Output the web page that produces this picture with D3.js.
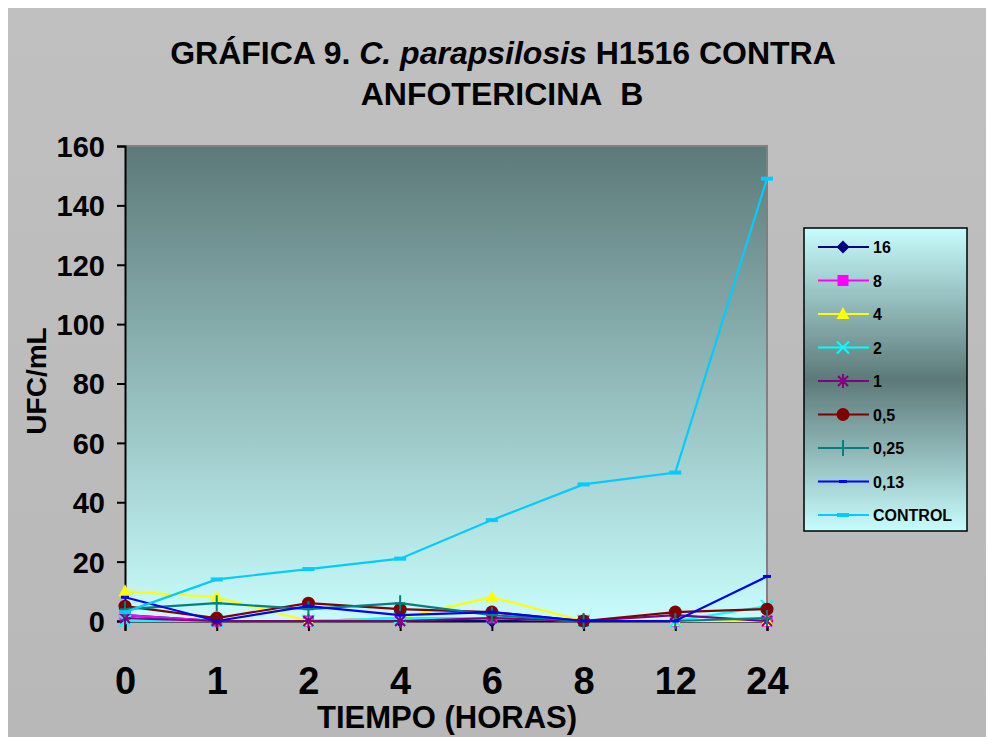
<!DOCTYPE html>
<html>
<head>
<meta charset="utf-8">
<script src="https://cdn.jsdelivr.net/npm/d3@7"></script>
<style>
  body { margin: 0; background: #fff; }
  text { font-family: "Liberation Sans", Arial, sans-serif; font-weight: bold; fill: #000; }
</style>
</head>
<body>
<script>
// categories on the x axis (hours)
var categories = ["0", "1", "2", "4", "6", "8", "12", "24"];
var yTicks = [0, 20, 40, 60, 80, 100, 120, 140, 160];

// series names as shown in the legend
var seriesNames = ["16", "8", "4", "2", "1", "0,5", "0,25", "0,13", "CONTROL"];

// UFC/mL values
var s16     = [2, 0, 0, 0, 0, 0, 0, 0];
var s8      = [2, 0, 0, 1, 1, 0, 0, 0];
var s4      = [10, 8, 0, 1, 8, 0, 0, 0];
var s2      = [0, 0, 0, 1, 1, 0, 0, 5];
var s1      = [1, 0, 0, 0, 1, 0, 2, 0];
var s05     = [5, 1, 6, 4, 3, 0, 3, 4];
var s025    = [4, 6, 4, 6, 2, 0, 0, 1];
var s013    = [8, 0, 5, 2, 3, 0, 0, 15];
var control = [3, 14, 17.5, 21, 34, 46, 50, 149];

var seriesValues = [s16, s8, s4, s2, s1, s05, s025, s013, control];
var colors = ["#000080", "#ff00ff", "#ffff00", "#00ffff", "#800080", "#800000", "#008080", "#0000ff", "#00ccff"];
var markers = ["diamond", "square", "triangle", "x", "star", "circle", "plus", "dash", "longdash"];

var width = 988, height = 737;
var plot = {left: 125, right: 767, top: 146, bottom: 621};

var svg = d3.select("body").append("svg")
  .attr("width", width)
  .attr("height", height);

var defs = svg.append("defs");

var bgGrad = defs.append("linearGradient").attr("id", "bgGrad")
  .attr("x1", 0).attr("y1", 0).attr("x2", 0).attr("y2", 1);
bgGrad.append("stop").attr("offset", "0%").attr("stop-color", "#c0c0c0");
bgGrad.append("stop").attr("offset", "100%").attr("stop-color", "#b8b8b8");

var plotGrad = defs.append("linearGradient").attr("id", "plotGrad")
  .attr("x1", 0).attr("y1", 0).attr("x2", 0).attr("y2", 1);
plotGrad.append("stop").attr("offset", "0%").attr("stop-color", "#5d7979");
plotGrad.append("stop").attr("offset", "100%").attr("stop-color", "#c8fcfc");

var legGrad = defs.append("linearGradient").attr("id", "legGrad")
  .attr("x1", 0).attr("y1", 0).attr("x2", 0).attr("y2", 1);
legGrad.append("stop").attr("offset", "0%").attr("stop-color", "#c8fcfc");
legGrad.append("stop").attr("offset", "50%").attr("stop-color", "#5d7979");
legGrad.append("stop").attr("offset", "100%").attr("stop-color", "#c8fcfc");

// chart background
svg.append("rect")
  .attr("x", 8).attr("y", 8)
  .attr("width", 978).attr("height", 729)
  .attr("fill", "url(#bgGrad)");

// title
var title = svg.append("text")
  .attr("text-anchor", "middle")
  .attr("font-size", 32);
title.append("tspan").attr("x", 503).attr("y", 64).text("GRÁFICA 9. ");
title.select("tspan").append("tspan").attr("font-style", "italic").text("C. parapsilosis");
title.select("tspan").append("tspan").text(" H1516 CONTRA");
title.append("tspan").attr("x", 502).attr("y", 105).text("ANFOTERICINA\u00a0 B");

// scales
var x = d3.scalePoint()
  .domain(categories)
  .range([plot.left, plot.right])
  .padding(0);

var y = d3.scaleLinear()
  .domain([0, 160])
  .range([plot.bottom, plot.top]);

// plot area
svg.append("rect")
  .attr("x", plot.left).attr("y", plot.top)
  .attr("width", plot.right - plot.left)
  .attr("height", plot.bottom - plot.top)
  .attr("fill", "url(#plotGrad)");

// gray frame on top and right
svg.append("path")
  .attr("d", "M" + plot.left + "," + plot.top + "H" + plot.right + "V" + plot.bottom)
  .attr("fill", "none")
  .attr("stroke", "#808080")
  .attr("stroke-width", 2);

// axes
var yAxis = svg.append("g")
  .attr("transform", "translate(" + plot.left + ",0)")
  .call(d3.axisLeft(y).tickValues(yTicks).tickSize(8).tickPadding(12));

var xAxis = svg.append("g")
  .attr("transform", "translate(0," + plot.bottom + ")")
  .call(d3.axisBottom(x).tickSize(10).tickPadding(44));

yAxis.selectAll("text").attr("font-size", 29).attr("font-family", null).attr("dy", "0.36em");
xAxis.selectAll("text").attr("font-size", 38).attr("font-family", null).attr("dy", "0.5em");
svg.selectAll(".domain").attr("stroke", "#000").attr("stroke-width", 2);
svg.selectAll(".tick line").attr("stroke", "#000").attr("stroke-width", 2);
svg.selectAll(".tick text").style("font-weight", "bold");

// axis titles
svg.append("text")
  .attr("x", 447).attr("y", 728)
  .attr("text-anchor", "middle")
  .attr("font-size", 31)
  .text("TIEMPO (HORAS)");

svg.append("text")
  .attr("transform", "translate(46,381) rotate(-90)")
  .attr("text-anchor", "middle")
  .attr("font-size", 28)
  .text("UFC/mL");

// marker drawing
function drawMarker(g, type, color) {
  if (type === "diamond") {
    g.append("path").attr("d", "M0,-6.5L6.5,0L0,6.5L-6.5,0Z").attr("fill", color);
  } else if (type === "square") {
    g.append("rect").attr("x", -5.5).attr("y", -5.5).attr("width", 11).attr("height", 11).attr("fill", color);
  } else if (type === "triangle") {
    g.append("path").attr("d", "M0,-7L6.5,5L-6.5,5Z").attr("fill", color);
  } else if (type === "x") {
    g.append("path").attr("d", "M-6,-6L6,6M-6,6L6,-6").attr("stroke", color).attr("stroke-width", 2);
  } else if (type === "star") {
    g.append("path").attr("d", "M-5,-5L5,5M-5,5L5,-5M0,-7V7").attr("stroke", color).attr("stroke-width", 2);
  } else if (type === "circle") {
    g.append("circle").attr("r", 6.5).attr("fill", color);
  } else if (type === "plus") {
    g.append("path").attr("d", "M0,-8V8M-5,0H5").attr("stroke", color).attr("stroke-width", 2);
  } else if (type === "dash") {
    g.append("rect").attr("x", -4).attr("y", -1.5).attr("width", 8).attr("height", 3).attr("fill", color);
  } else if (type === "longdash") {
    g.append("rect").attr("x", -6).attr("y", -2).attr("width", 12).attr("height", 4).attr("fill", color);
  }
}

var line = d3.line()
  .x(function(d, i) { return x(categories[i]); })
  .y(function(d) { return y(d); });

// series, drawn in order so CONTROL ends on top
seriesValues.forEach(function(values, si) {
  var g = svg.append("g");
  g.append("path")
    .attr("d", line(values))
    .attr("fill", "none")
    .attr("stroke", colors[si])
    .attr("stroke-width", 2.2);
  g.selectAll("g.pt")
    .data(values)
    .enter()
    .append("g")
    .attr("class", "pt")
    .attr("transform", function(d, i) {
      return "translate(" + x(categories[i]) + "," + y(d) + ")";
    })
    .each(function() { drawMarker(d3.select(this), markers[si], colors[si]); });
});

// legend
var legend = svg.append("g");
legend.append("rect")
  .attr("x", 804).attr("y", 228)
  .attr("width", 163).attr("height", 303)
  .attr("fill", "url(#legGrad)")
  .attr("stroke", "#000")
  .attr("stroke-width", 1.5);

var legendRows = legend.selectAll("g.row")
  .data(seriesNames)
  .enter()
  .append("g")
  .attr("class", "row")
  .attr("transform", function(d, i) { return "translate(0," + (247 + i * 33.5) + ")"; });

legendRows.append("line")
  .attr("x1", 818).attr("x2", 869)
  .attr("stroke", function(d, i) { return colors[i]; })
  .attr("stroke-width", 2);

legendRows.append("g")
  .attr("transform", "translate(843,0)")
  .each(function(d, i) { drawMarker(d3.select(this), markers[i], colors[i]); });

legendRows.append("text")
  .attr("x", 873).attr("y", 6)
  .attr("font-size", 16)
  .text(function(d) { return d; });
</script>
</body>
</html>
